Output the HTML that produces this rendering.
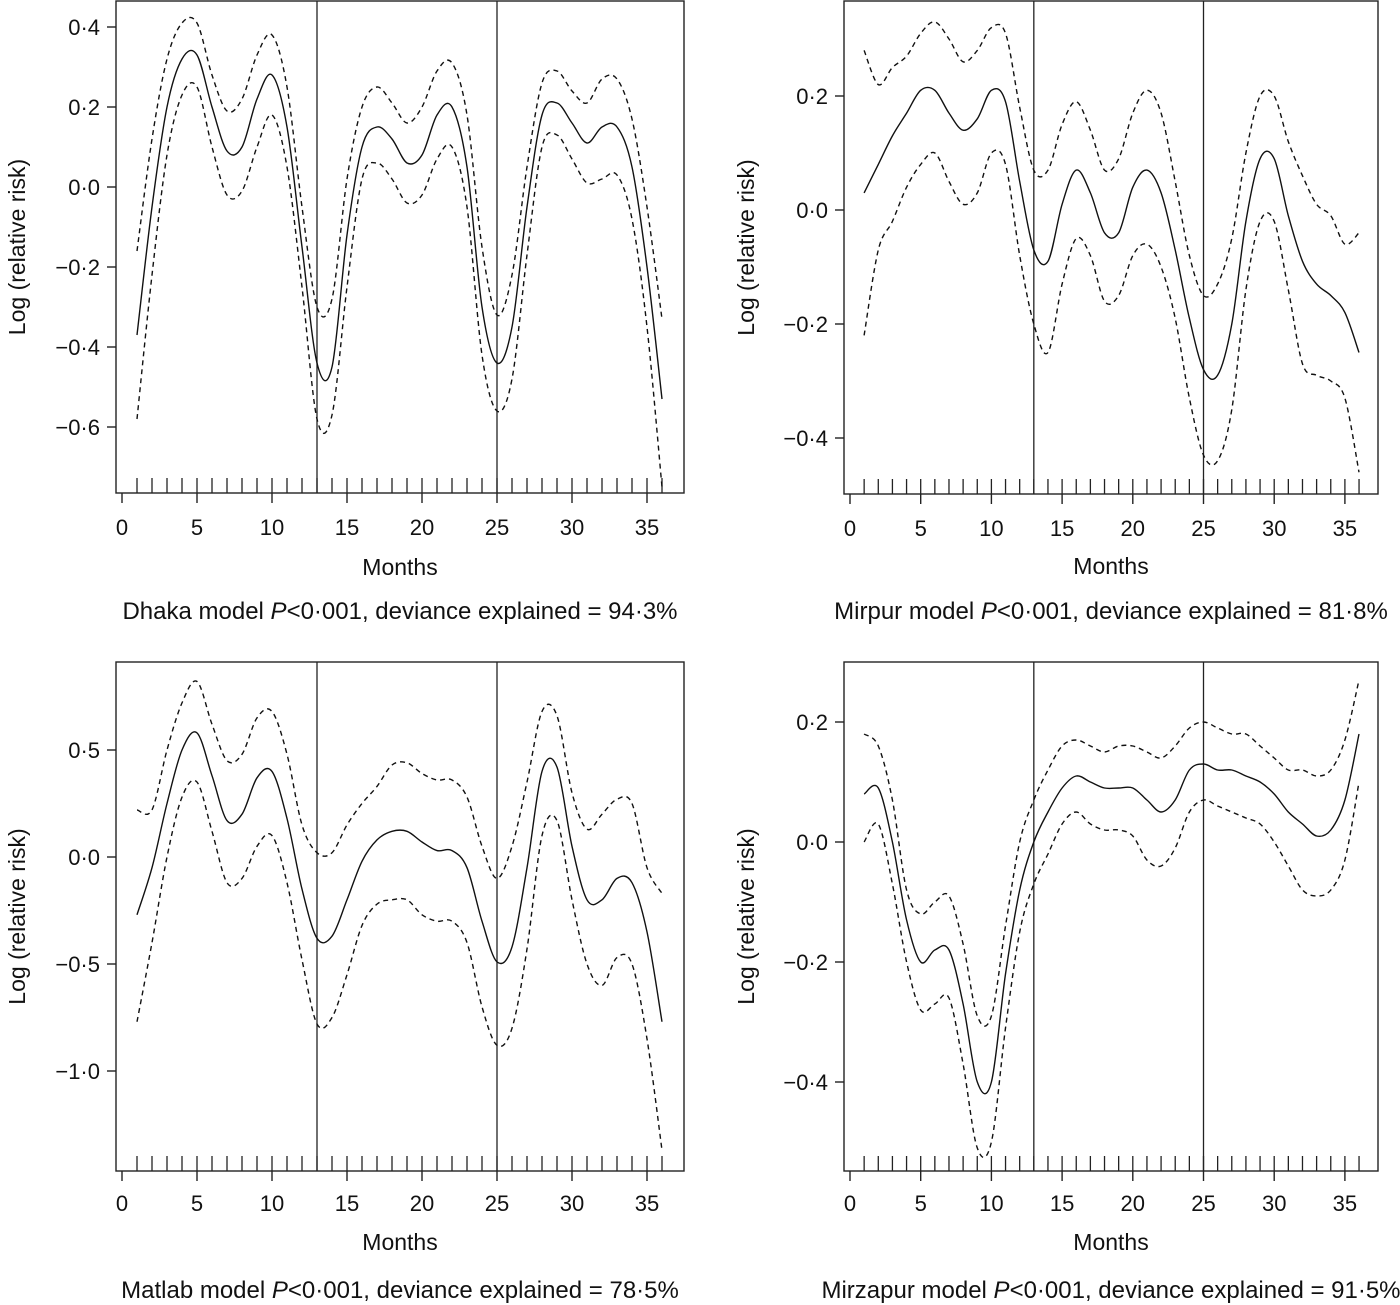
<!DOCTYPE html>
<html><head><meta charset="utf-8"><style>
body{margin:0;background:#fff;}
svg{display:block;font-family:"Liberation Sans",Arial,sans-serif;}
</style></head><body>
<svg id="c" width="1400" height="1305"></svg>
<script>
const months=[1,2,3,4,5,6,7,8,9,10,11,12,13,14,15,16,17,18,19,20,21,22,23,24,25,26,27,28,29,30,31,32,33,34,35,36];
const dhakaFit=[-0.37,-0.05,0.2,0.32,0.33,0.2,0.09,0.1,0.22,0.28,0.15,-0.15,-0.44,-0.45,-0.12,0.1,0.15,0.12,0.06,0.08,0.18,0.2,0.05,-0.3,-0.44,-0.35,-0.05,0.18,0.21,0.16,0.11,0.15,0.15,0.05,-0.2,-0.53];
const dhakaUp=[-0.16,0.12,0.32,0.41,0.41,0.28,0.19,0.22,0.33,0.38,0.25,-0.05,-0.3,-0.28,0.02,0.2,0.25,0.21,0.16,0.2,0.29,0.31,0.18,-0.15,-0.32,-0.22,0.05,0.26,0.29,0.24,0.21,0.27,0.27,0.17,-0.05,-0.33];
const dhakaLo=[-0.58,-0.22,0.08,0.23,0.25,0.1,-0.02,-0.01,0.1,0.18,0.05,-0.25,-0.58,-0.57,-0.25,0.02,0.06,0.02,-0.04,-0.02,0.07,0.1,-0.05,-0.42,-0.56,-0.48,-0.17,0.1,0.13,0.07,0.01,0.02,0.03,-0.08,-0.35,-0.75];
const mirpurFit=[0.03,0.08,0.13,0.17,0.21,0.21,0.17,0.14,0.16,0.21,0.19,0.05,-0.07,-0.09,0.01,0.07,0.03,-0.04,-0.04,0.04,0.07,0.03,-0.07,-0.19,-0.28,-0.29,-0.2,-0.02,0.09,0.09,-0.01,-0.09,-0.13,-0.15,-0.18,-0.25];
const mirpurUp=[0.28,0.22,0.25,0.27,0.31,0.33,0.3,0.26,0.28,0.32,0.31,0.18,0.07,0.07,0.15,0.19,0.14,0.07,0.09,0.17,0.21,0.17,0.05,-0.08,-0.15,-0.13,-0.05,0.1,0.2,0.2,0.12,0.06,0.01,-0.01,-0.06,-0.04];
const mirpurLo=[-0.22,-0.07,-0.02,0.04,0.08,0.1,0.05,0.01,0.03,0.1,0.08,-0.08,-0.2,-0.25,-0.13,-0.05,-0.08,-0.16,-0.15,-0.08,-0.06,-0.1,-0.19,-0.33,-0.43,-0.44,-0.35,-0.14,-0.02,-0.02,-0.14,-0.27,-0.29,-0.3,-0.33,-0.46];
const matlabFit=[-0.27,-0.05,0.25,0.5,0.58,0.38,0.17,0.2,0.37,0.4,0.18,-0.15,-0.38,-0.37,-0.2,-0.02,0.08,0.12,0.12,0.07,0.03,0.03,-0.05,-0.3,-0.49,-0.42,-0.05,0.4,0.42,0.05,-0.2,-0.2,-0.1,-0.12,-0.35,-0.77];
const matlabUp=[0.22,0.22,0.5,0.72,0.82,0.62,0.45,0.48,0.65,0.68,0.48,0.15,0.02,0.02,0.15,0.25,0.33,0.43,0.44,0.39,0.36,0.36,0.28,0.05,-0.1,0.05,0.35,0.68,0.66,0.3,0.13,0.2,0.27,0.25,-0.05,-0.17];
const matlabLo=[-0.77,-0.4,0.0,0.28,0.35,0.12,-0.12,-0.1,0.05,0.1,-0.12,-0.48,-0.78,-0.75,-0.55,-0.32,-0.22,-0.2,-0.2,-0.27,-0.3,-0.3,-0.4,-0.7,-0.88,-0.8,-0.43,0.1,0.17,-0.2,-0.5,-0.6,-0.47,-0.5,-0.85,-1.37];
const mirzFit=[0.08,0.09,0.0,-0.13,-0.2,-0.18,-0.18,-0.27,-0.4,-0.4,-0.22,-0.08,0.0,0.05,0.09,0.11,0.1,0.09,0.09,0.09,0.07,0.05,0.07,0.12,0.13,0.12,0.12,0.11,0.1,0.08,0.05,0.03,0.01,0.02,0.07,0.18];
const mirzUp=[0.18,0.16,0.07,-0.08,-0.12,-0.1,-0.09,-0.17,-0.29,-0.29,-0.14,0.0,0.07,0.12,0.16,0.17,0.16,0.15,0.16,0.16,0.15,0.14,0.16,0.19,0.2,0.19,0.18,0.18,0.16,0.14,0.12,0.12,0.11,0.12,0.17,0.27];
const mirzLo=[0.0,0.03,-0.07,-0.2,-0.28,-0.27,-0.26,-0.37,-0.51,-0.5,-0.31,-0.15,-0.07,-0.02,0.03,0.05,0.03,0.02,0.02,0.01,-0.03,-0.04,-0.01,0.05,0.07,0.06,0.05,0.04,0.03,0.0,-0.04,-0.08,-0.09,-0.08,-0.03,0.1];
const xTicks=[0,5,10,15,20,25,30,35];
const breaks=[13,25];
const dhakaTicks=[0.4,0.2,0.0,-0.2,-0.4,-0.6];
const mirpurTicks=[0.2,0.0,-0.2,-0.4];
const matlabTicks=[0.5,0.0,-0.5,-1.0];
const mirzTicks=[0.2,0.0,-0.2,-0.4];

const NS="http://www.w3.org/2000/svg";
const svg=document.getElementById('c');
function mk(tag,attrs,parent){const e=document.createElementNS(NS,tag);for(const k in attrs)e.setAttribute(k,attrs[k]);(parent||svg).appendChild(e);return e;}
function fmt(v){let s=Math.abs(v).toFixed(1).replace('.','\u00B7');return v<0?'\u2212'+s:s;}
function smooth(pts){let d='M'+pts[0][0].toFixed(1)+','+pts[0][1].toFixed(1);
 for(let i=0;i<pts.length-1;i++){const p0=pts[Math.max(0,i-1)],p1=pts[i],p2=pts[i+1],p3=pts[Math.min(pts.length-1,i+2)];
  const c1=[p1[0]+(p2[0]-p0[0])/6,p1[1]+(p2[1]-p0[1])/6],c2=[p2[0]-(p3[0]-p1[0])/6,p2[1]-(p3[1]-p1[1])/6];
  d+='C'+c1[0].toFixed(1)+','+c1[1].toFixed(1)+' '+c2[0].toFixed(1)+','+c2[1].toFixed(1)+' '+p2[0].toFixed(1)+','+p2[1].toFixed(1);}
 return d;}
function panel(name,cfg,fit,up,lo,yTicks,caption){
 const g=mk('g',{});
 
 
 const X=m=>cfg.x0+m*cfg.xs, Y=v=>cfg.y0-v*cfg.ys;
 const box=mk('rect',{x:cfg.L,y:cfg.T,width:cfg.R-cfg.L,height:cfg.B-cfg.T,fill:'none',stroke:'#222','stroke-width':1.4},g);
 
 
 yTicks.forEach(v=>{
  mk('line',{x1:cfg.L-9,x2:cfg.L,y1:Y(v),y2:Y(v),stroke:'#222','stroke-width':1.4},g);
  const t=mk('text',{x:cfg.L-16,y:Y(v)+8,'text-anchor':'end','font-size':22,fill:'#111'},g);t.textContent=fmt(v);
  
  
 });
 xTicks.forEach(v=>{
  mk('line',{x1:X(v),x2:X(v),y1:cfg.B,y2:cfg.B+10,stroke:'#222','stroke-width':1.4},g);
  const t=mk('text',{x:X(v),y:cfg.B+cfg.lab,'text-anchor':'middle','font-size':22,fill:'#111'},g);t.textContent=v;
  
  
 });
 months.forEach(m=>{mk('line',{x1:X(m),x2:X(m),y1:cfg.B-15,y2:cfg.B,stroke:'#222','stroke-width':1.3},g);});
 breaks.forEach(b=>{const l=mk('line',{x1:X(b),x2:X(b),y1:cfg.T,y2:cfg.B,stroke:'#222','stroke-width':1.3},g);
  
  });
 [[up,'upper-ci',true],[lo,'lower-ci',true],[fit,'fitted-curve',false]].forEach(([arr,nm,dash])=>{
  const p=mk('path',{d:smooth(months.map((m,i)=>[X(m),Y(arr[i])])),fill:'none',stroke:'#111','stroke-width':1.4},g);
  if(dash)p.setAttribute('stroke-dasharray','5,4');
  
  
 });
 const cx=(cfg.L+cfg.R)/2, cy=(cfg.T+cfg.B)/2;
 const yt=mk('text',{x:cfg.ytx,y:cy,'text-anchor':'middle','font-size':23,fill:'#111',transform:`rotate(-90 ${cfg.ytx} ${cy})`},g);yt.textContent='Log (relative risk)';
 
 
 const xt=mk('text',{x:cx,y:cfg.B+cfg.mon,'text-anchor':'middle','font-size':23,fill:'#111'},g);xt.textContent='Months';
 
 
 const cp=mk('text',{x:cx,y:cfg.B+cfg.cap,'text-anchor':'middle','font-size':24,fill:'#111'},g);
 cp.innerHTML=caption[0]+' <tspan font-style="italic">P</tspan>&lt;0\u00B7001, deviance explained = '+caption[1];
 
 
}
panel('dhaka',{L:116,R:684,T:1,B:493,x0:122,xs:15,y0:187,ys:400,ytx:25,lab:42,mon:82,cap:126},dhakaFit,dhakaUp,dhakaLo,dhakaTicks,['Dhaka model','94\u00B73%']);
panel('mirpur',{L:844,R:1378,T:1,B:494,x0:850,xs:14.14,y0:210,ys:570,ytx:754,lab:42,mon:80,cap:125},mirpurFit,mirpurUp,mirpurLo,mirpurTicks,['Mirpur model','81\u00B78%']);
panel('matlab',{L:116,R:684,T:662,B:1171,x0:122,xs:15,y0:857,ys:214,ytx:25,lab:40,mon:79,cap:127},matlabFit,matlabUp,matlabLo,matlabTicks,['Matlab model','78\u00B75%']);
panel('mirzapur',{L:844,R:1378,T:662,B:1171,x0:850,xs:14.14,y0:842,ys:600,ytx:754,lab:40,mon:79,cap:127},mirzFit,mirzUp,mirzLo,mirzTicks,['Mirzapur model','91\u00B75%']);
</script>
</body></html>
